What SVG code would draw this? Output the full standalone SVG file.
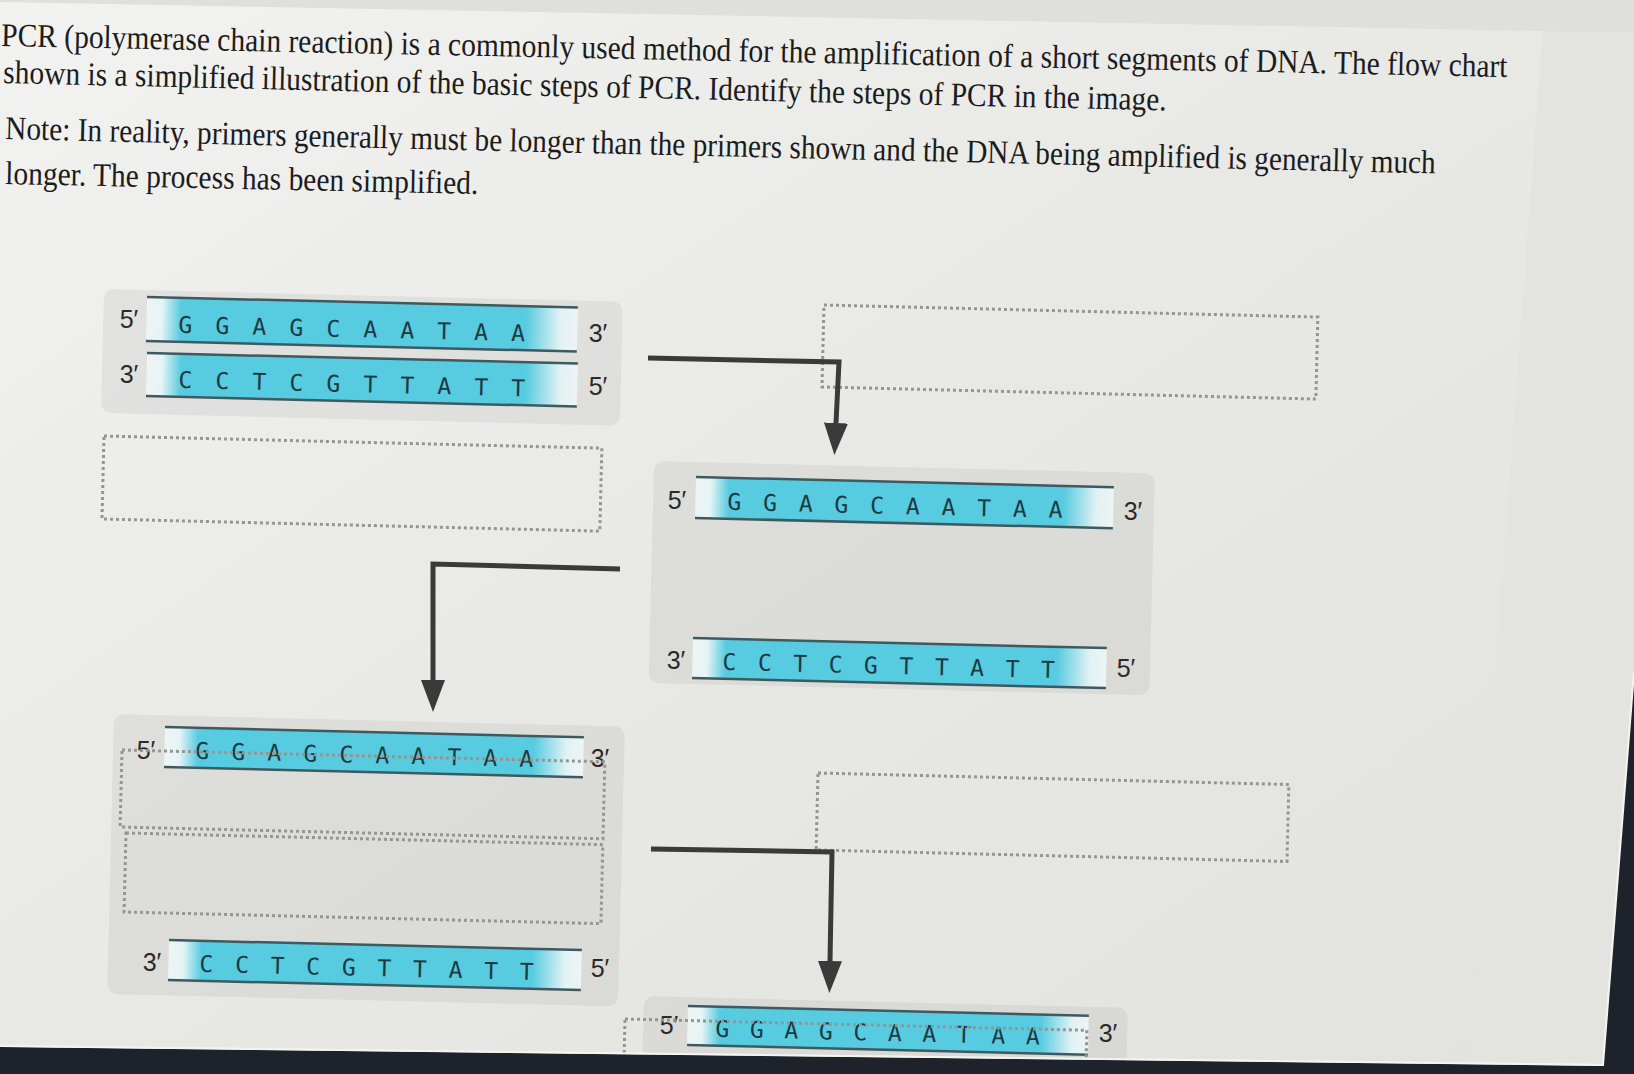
<svg xmlns="http://www.w3.org/2000/svg" width="1634" height="1074" viewBox="0 0 1634 1074">
  <defs>
    <linearGradient id="pageGrad" x1="0" y1="0" x2="1" y2="1">
      <stop offset="0" stop-color="#f2f2f0"/>
      <stop offset="0.5" stop-color="#e8e8e5"/>
      <stop offset="1" stop-color="#e2e2de"/>
    </linearGradient>
    <linearGradient id="cyanFade" x1="0" y1="0" x2="1" y2="0">
      <stop offset="0" stop-color="#eef4f4"/>
      <stop offset="0.035" stop-color="#e6f4f6"/>
      <stop offset="0.08" stop-color="#57cbdf"/>
      <stop offset="0.88" stop-color="#57cbdf"/>
      <stop offset="0.96" stop-color="#e2f2f4"/>
      <stop offset="1" stop-color="#eef4f4"/>
    </linearGradient>
    <marker id="arrowhead" viewBox="0 0 32 24" refX="0" refY="12" markerWidth="32" markerHeight="24" markerUnits="userSpaceOnUse" orient="auto">
      <path d="M0,0 L32,12 L0,24 Z" fill="#3a3a3a"/>
    </marker>
    <style>
      .q { font-family: "Liberation Serif", "Times New Roman", serif; font-size: 33px; fill: #1c1c1c; }
      .panel { fill: #000000; fill-opacity: 0.05; }
      .box { fill: none; stroke: #959595; stroke-width: 3; stroke-dasharray: 3 3; }
      .cyan { fill: url(#cyanFade); }
      .edge { stroke: #3e5a60; stroke-width: 2.5; fill: none; }
      .base { font-family: "DejaVu Sans Mono", "Liberation Mono", monospace; font-size: 23px; fill: #1d3a42; text-anchor: middle; }
      .end { font-family: "Liberation Sans", Arial, sans-serif; font-size: 25px; fill: #2a2a2a; text-anchor: middle; }
      .conn { fill: none; stroke: #3a3a3a; stroke-width: 5; stroke-linejoin: miter; }
    </style>
  </defs>

  <!-- photo background -->
  <rect x="0" y="0" width="1634" height="1074" fill="#dfdfdc"/>
  <polygon points="0,2 1543,31 1467,1062 0,1047" fill="url(#pageGrad)"/>
  <polygon points="1543,31 1634,33 1634,675 1603,1066 1467,1062" fill="#e3e3df"/>
  <polygon points="0,1047 1603,1066 1634,675 1634,1074 0,1074" fill="#1e222b"/>
  <polyline points="0,1046 1603,1065 1634,672" fill="none" stroke="#f3f3f1" stroke-width="2"/>

  <!-- question text -->
  <g id="question">
    <text class="q" x="0" y="0" transform="translate(1 46) rotate(1.18) scale(0.912 1)" textLength="1652" lengthAdjust="spacingAndGlyphs">PCR (polymerase chain reaction) is a commonly used method for the amplification of a short segments of DNA. The flow chart</text>
    <text class="q" x="0" y="0" transform="translate(3 83) rotate(1.35) scale(0.912 1)" textLength="1276" lengthAdjust="spacingAndGlyphs">shown is a simplified illustration of the basic steps of PCR. Identify the steps of PCR in the image.</text>
    <text class="q" x="0" y="0" transform="translate(5 139) rotate(1.38) scale(0.912 1)" textLength="1569" lengthAdjust="spacingAndGlyphs">Note: In reality, primers generally must be longer than the primers shown and the DNA being amplified is generally much</text>
    <text class="q" x="0" y="0" transform="translate(5 184) rotate(1.2) scale(0.912 1)" textLength="519" lengthAdjust="spacingAndGlyphs">longer. The process has been simplified.</text>
  </g>

  <!-- node: starting double-stranded DNA -->
  <g id="dna-start">
    <rect class="panel" x="0" y="0" width="519" height="124" rx="10" transform="translate(104 289) rotate(1.4)"/>
    <g transform="translate(147 297) rotate(1.4)">
      <rect class="cyan" x="0" y="0" width="431" height="44"/>
      <line class="edge" x1="0" y1="0" x2="431" y2="0"/>
      <line class="edge" x1="0" y1="44" x2="431" y2="44"/>
      <text class="base" x="39 76 113 150 187 224 261 298 335 372" y="35">GGAGCAATAA</text>
    </g>
    <g transform="translate(147 353) rotate(1.4)">
      <rect class="cyan" x="0" y="0" width="431" height="43"/>
      <line class="edge" x1="0" y1="0" x2="431" y2="0"/>
      <line class="edge" x1="0" y1="43" x2="431" y2="43"/>
      <text class="base" x="39 76 113 150 187 224 261 298 335 372" y="34">CCTCGTTATT</text>
    </g>
    <text class="end" x="129" y="328">5′</text>
    <text class="end" x="129" y="383">3′</text>
    <text class="end" x="598" y="342">3′</text>
    <text class="end" x="598" y="395">5′</text>
  </g>

  <!-- node: answer box 1 -->
  <g id="box-step1">
    <rect class="box" x="0" y="0" width="498" height="83" transform="translate(104 436) rotate(1.4)"/>
  </g>

  <!-- node: separated strands (right) -->
  <g id="dna-denatured">
    <rect class="panel" x="0" y="0" width="501" height="222" rx="10" transform="translate(654 461) rotate(1.4)"/>
    <g transform="translate(696 477) rotate(1.4)">
      <rect class="cyan" x="0" y="0" width="418" height="41"/>
      <line class="edge" x1="0" y1="0" x2="418" y2="0"/>
      <line class="edge" x1="0" y1="41" x2="418" y2="41"/>
      <text class="base" x="39 74.7 110.4 146.1 181.8 217.5 253.2 288.9 324.6 360.3" y="32">GGAGCAATAA</text>
    </g>
    <g transform="translate(693 638) rotate(1.4)">
      <rect class="cyan" x="0" y="0" width="414" height="40"/>
      <line class="edge" x1="0" y1="0" x2="414" y2="0"/>
      <line class="edge" x1="0" y1="40" x2="414" y2="40"/>
      <text class="base" x="37 72.4 107.8 143.2 178.6 214 249.4 284.8 320.2 355.6" y="31">CCTCGTTATT</text>
    </g>
    <text class="end" x="677" y="509">5′</text>
    <text class="end" x="1133" y="520">3′</text>
    <text class="end" x="676" y="669">3′</text>
    <text class="end" x="1126" y="677">5′</text>
  </g>

  <!-- node: answer box 2 -->
  <g id="box-step2">
    <rect class="box" x="0" y="0" width="494" height="82" transform="translate(824 305) rotate(1.4)"/>
  </g>

  <!-- node: answer box 3 -->
  <g id="box-step3">
    <rect class="box" x="0" y="0" width="471" height="77" transform="translate(818 773) rotate(1.4)"/>
  </g>

  <!-- node: primed strands (bottom left) -->
  <g id="dna-primed">
    <rect class="panel" x="0" y="0" width="511" height="280" rx="10" transform="translate(114 714) rotate(1.4)"/>
    <g transform="translate(165 727) rotate(1.4)">
      <rect class="cyan" x="0" y="0" width="419" height="40"/>
      <line class="edge" x1="0" y1="0" x2="419" y2="0"/>
      <line class="edge" x1="0" y1="40" x2="419" y2="40"/>
      <text class="base" x="38 74 110 146 182 218 254 290 326 362" y="31">GGAGCAATAA</text>
    </g>
    <g transform="translate(169 940) rotate(1.4)">
      <rect class="cyan" x="0" y="0" width="413" height="40"/>
      <line class="edge" x1="0" y1="0" x2="413" y2="0"/>
      <line class="edge" x1="0" y1="40" x2="413" y2="40"/>
      <text class="base" x="38 73.6 109.2 144.8 180.4 216 251.6 287.2 322.8 358.4" y="31">CCTCGTTATT</text>
    </g>
    <text class="end" x="146" y="759">5′</text>
    <text class="end" x="600" y="767">3′</text>
    <text class="end" x="152" y="971">3′</text>
    <text class="end" x="600" y="977">5′</text>
    <rect class="box" x="0" y="0" width="483" height="77" transform="translate(122 750) rotate(1.4)"/>
    <rect class="box" x="0" y="0" width="477" height="79" transform="translate(126 833) rotate(1.4)"/>
  </g>

  <!-- node: extended strand (bottom right) -->
  <g id="dna-extended">
    <rect class="panel" x="0" y="0" width="484" height="90" rx="10" transform="translate(644 996) rotate(1.4)"/>
    <g transform="translate(688 1006) rotate(1.4)">
      <rect class="cyan" x="0" y="0" width="401" height="39"/>
      <line class="edge" x1="0" y1="0" x2="401" y2="0"/>
      <line class="edge" x1="0" y1="39" x2="401" y2="39"/>
      <text class="base" x="35 69.5 104 138.5 173 207.5 242 276.5 311 345.5" y="30">GGAGCAATAA</text>
    </g>
    <text class="end" x="669" y="1034">5′</text>
    <text class="end" x="1108" y="1042">3′</text>
    <rect class="box" x="0" y="0" width="462" height="80" transform="translate(625 1019) rotate(1.4)"/>
  </g>

  <!-- connectors -->
  <g id="connectors">
    <path class="conn" d="M620,569 L433,564 L433,680" marker-end="url(#arrowhead)"/>
    <path class="conn" d="M648,358 L839,362 L836,423" marker-end="url(#arrowhead)"/>
    <path class="conn" d="M651,849 L832,852 L830,961" marker-end="url(#arrowhead)"/>
  </g>

  <!-- bottom edge of screen over clipped nodes -->
  <polygon points="0,1047 1603,1066 1634,675 1634,1074 0,1074" fill="#1e222b"/>
  <polyline points="0,1046 1603,1065 1634,672" fill="none" stroke="#f3f3f1" stroke-width="2"/>
</svg>
